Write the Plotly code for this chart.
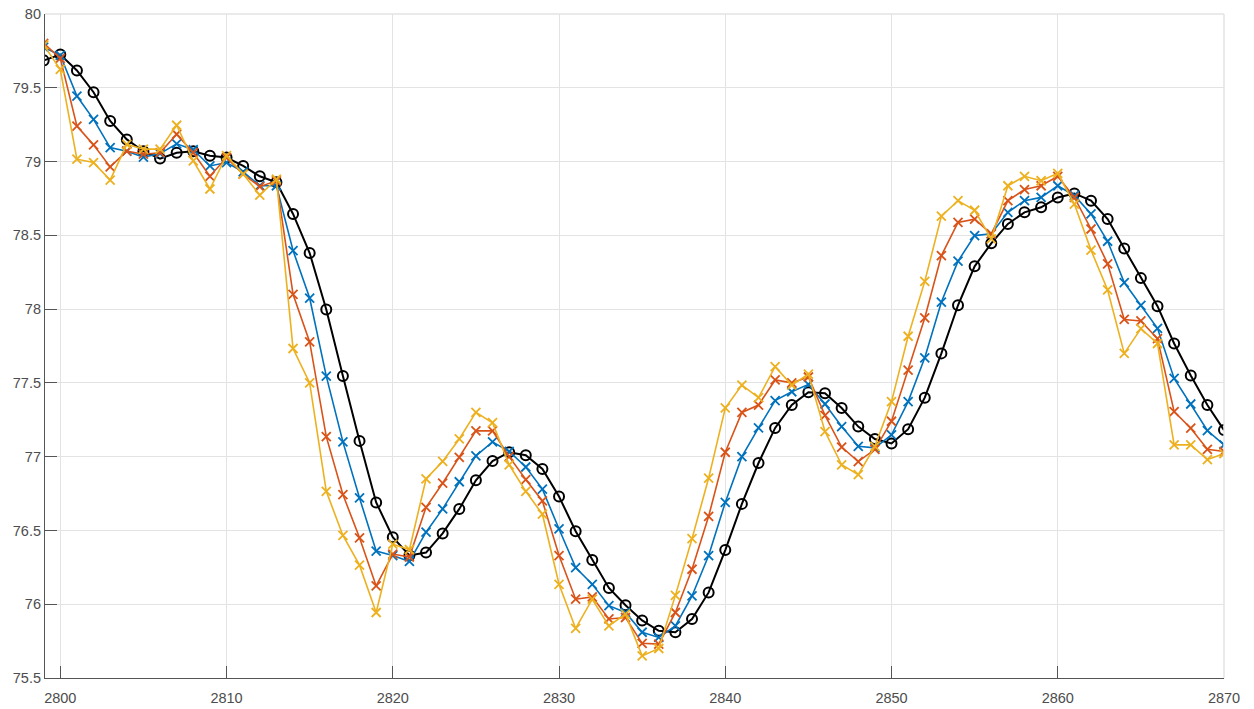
import plotly.graph_objects as go

x = list(range(2799, 2871))

black = [79.685, 79.725, 79.617, 79.47, 79.275, 79.15, 79.07, 79.02, 79.06, 79.07,
         79.04, 79.027, 78.97, 78.90, 78.86, 78.645, 78.38, 77.997, 77.546, 77.107,
         76.69, 76.454, 76.33, 76.35, 76.48, 76.646, 76.84, 76.97, 77.03, 77.01,
         76.917, 76.73, 76.495, 76.30, 76.11, 75.993, 75.89, 75.82, 75.81, 75.90,
         76.08, 76.367, 76.68, 76.957, 77.195, 77.35, 77.436, 77.43, 77.33, 77.204,
         77.12, 77.09, 77.186, 77.40, 77.70, 78.026, 78.29, 78.446, 78.577, 78.656,
         78.69, 78.757, 78.784, 78.735, 78.61, 78.41, 78.21, 78.02, 77.767, 77.55,
         77.35, 77.18]

blue = [79.775, 79.72, 79.444, 79.286, 79.095, 79.07, 79.03, 79.054, 79.12, 79.08,
        78.97, 78.993, 78.93, 78.836, 78.836, 78.397, 78.075, 77.546, 77.10, 76.72,
        76.36, 76.33, 76.29, 76.488, 76.646, 76.83, 77.006, 77.10, 77.035, 76.93,
        76.78, 76.51, 76.248, 76.135, 75.99, 75.944, 75.81, 75.775, 75.853, 76.056,
        76.33, 76.69, 77.0, 77.195, 77.38, 77.44, 77.49, 77.357, 77.204, 77.07,
        77.06, 77.148, 77.373, 77.67, 78.048, 78.325, 78.498, 78.51, 78.656, 78.735,
        78.757, 78.836, 78.77, 78.645, 78.46, 78.18, 78.026, 77.87, 77.53, 77.357,
        77.177, 77.08]

red = [79.80, 79.70, 79.24, 79.113, 78.964, 79.07, 79.05, 79.06, 79.185, 79.06,
       78.90, 79.027, 78.915, 78.83, 78.87, 78.10, 77.778, 77.136, 76.743, 76.45,
       76.124, 76.34, 76.32, 76.657, 76.82, 76.995, 77.175, 77.175, 77.0, 76.845,
       76.70, 76.33, 76.034, 76.05, 75.90, 75.91, 75.735, 75.73, 75.944, 76.237,
       76.596, 77.03, 77.30, 77.35, 77.52, 77.50, 77.54, 77.28, 77.065, 76.967,
       77.05, 77.24, 77.587, 77.94, 78.363, 78.588, 78.61, 78.51, 78.735, 78.81,
       78.836, 78.90, 78.757, 78.543, 78.307, 77.93, 77.92, 77.80, 77.305, 77.193,
       77.05, 77.035]

yellow = [79.79, 79.624, 79.016, 78.993, 78.874, 79.117, 79.084, 79.084, 79.246, 79.005,
          78.814, 79.04, 78.915, 78.773, 78.88, 77.733, 77.50, 76.765, 76.466, 76.265,
          75.944, 76.407, 76.37, 76.849, 76.968, 77.12, 77.30, 77.23, 76.945, 76.765,
          76.61, 76.135, 75.836, 76.034, 75.853, 75.933, 75.65, 75.70, 76.06, 76.444,
          76.855, 77.33, 77.485, 77.40, 77.61, 77.485, 77.56, 77.17, 76.945, 76.878,
          77.07, 77.373, 77.816, 78.188, 78.63, 78.735, 78.67, 78.476, 78.836, 78.90,
          78.87, 78.92, 78.712, 78.40, 78.13, 77.70, 77.868, 77.767, 77.08, 77.08,
          76.98, 77.02]

x_ticks = [2800, 2810, 2820, 2830, 2840, 2850, 2860, 2870]
y_ticks = [75.5, 76, 76.5, 77, 77.5, 78, 78.5, 79, 79.5, 80]
y_tick_text = ["75.5", "76", "76.5", "77", "77.5", "78", "78.5", "79", "79.5", "80"]

fig = go.Figure()
fig.add_trace(go.Scatter(x=x, y=black, mode="lines+markers",
                         line=dict(color="#000000", width=2),
                         marker=dict(symbol="circle-open", size=10, color="#000000",
                                     line=dict(width=2))))
fig.add_trace(go.Scatter(x=x, y=blue, mode="lines+markers",
                         line=dict(color="#0072BD", width=1.6),
                         marker=dict(symbol="x-thin-open", size=9, color="#0072BD",
                                     line=dict(width=1.8, color="#0072BD"))))
fig.add_trace(go.Scatter(x=x, y=red, mode="lines+markers",
                         line=dict(color="#D95319", width=1.6),
                         marker=dict(symbol="x-thin-open", size=9, color="#D95319",
                                     line=dict(width=1.8, color="#D95319"))))
fig.add_trace(go.Scatter(x=x, y=yellow, mode="lines+markers",
                         line=dict(color="#EDB120", width=1.6),
                         marker=dict(symbol="x-thin-open", size=9, color="#EDB120",
                                     line=dict(width=1.8, color="#EDB120"))))

fig.update_layout(
    width=1254, height=709,
    margin=dict(l=45, r=30, t=14, b=31),
    plot_bgcolor="white", paper_bgcolor="white",
    showlegend=False,
    font=dict(family="Liberation Sans, Arial, sans-serif", size=14.5, color="#4d4d4d"),
    shapes=[
        dict(type="line", xref="paper", yref="paper", x0=0, x1=1, y0=1, y1=1,
             line=dict(color="#e3e3e3", width=1.5)),
        dict(type="line", xref="paper", yref="paper", x0=1, x1=1, y0=0, y1=1,
             line=dict(color="#e3e3e3", width=1.5)),
    ],
)
fig.update_xaxes(range=[2799.08, 2870], tickvals=x_ticks, ticktext=[str(t) for t in x_ticks],
                 automargin=False, ticklabeloverflow="allow",
                 showgrid=True, gridcolor="#e3e3e3", gridwidth=1,
                 showline=True, linecolor="#555555", linewidth=1.2,
                 ticks="inside", ticklen=12, tickcolor="#555555", tickwidth=1,
                 ticklabelstandoff=6,
                 zeroline=False)
fig.update_yaxes(range=[75.5, 80], tickvals=y_ticks, ticktext=y_tick_text,
                 automargin=False, ticklabeloverflow="allow",
                 showgrid=True, gridcolor="#e3e3e3", gridwidth=1,
                 showline=True, linecolor="#555555", linewidth=1.2,
                 ticks="inside", ticklen=12, tickcolor="#555555", tickwidth=1,
                 zeroline=False)

fig.write_html("out.html",
               config={"displayModeBar": False},
               post_script="document.body.style.margin='0';document.body.style.padding='0';")
